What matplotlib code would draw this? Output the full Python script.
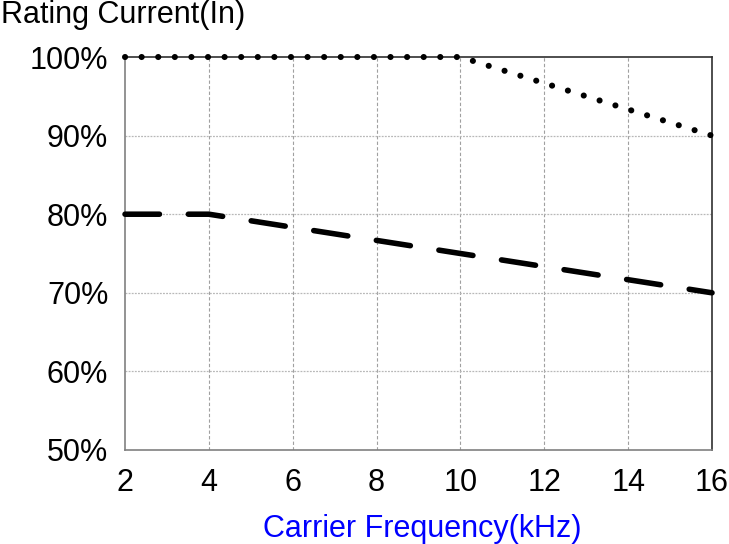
import matplotlib
matplotlib.use("Agg")
import matplotlib.pyplot as plt

plt.rcParams['font.family'] = ['Liberation Sans', 'DejaVu Sans']

# data
x_ticks = [2, 4, 6, 8, 10, 12, 14, 16]
y_ticks = [50, 60, 70, 80, 90, 100]
y_labels = ['50%', '60%', '70%', '80%', '90%', '100%']

upper_freq = [2, 10, 16]
upper_rate = [100, 100, 90]
lower_freq = [2, 4, 16]
lower_rate = [80, 80, 70]

fig = plt.figure(figsize=(7.29, 5.44), dpi=100)
ax = fig.add_axes([0.1715, 0.1728, 0.8052, 0.7224])

# grid
for xv in x_ticks[1:-1]:
    ax.axvline(xv, color='#a0a0a0', lw=0.8, ls=(0, (3, 2)), zorder=1)
for yv in y_ticks[1:-1]:
    ax.axhline(yv, color='#b8b8b8', lw=0.9, ls=(0, (1.5, 1)), zorder=1)

# curves
ax.plot(upper_freq, upper_rate, color='black', lw=4.4,
        ls=(0, (0.01, 2.705)), dash_capstyle='round', zorder=3, clip_on=False)
ax.plot(lower_freq, lower_rate, color='black', lw=4.0,
        ls=(0, (6.2, 5.2)), dash_capstyle='round', zorder=3, clip_on=False)

ax.set_xlim(2, 16)
ax.set_ylim(50, 100)
ax.set_xticks(x_ticks)
ax.set_yticks(y_ticks)
ax.set_yticklabels(y_labels)
ax.tick_params(length=0, labelsize=22, pad=13)
ax.tick_params(axis='y', pad=12)

for side in ['left', 'bottom']:
    ax.spines[side].set_color('#808080')
    ax.spines[side].set_linewidth(1.2)
ax.spines['top'].set_color('#303030')
ax.spines['right'].set_color('#303030')
ax.spines['top'].set_linewidth(1.2)
ax.spines['right'].set_linewidth(1.2)

fig.text(0.002, 0.972, 'Rating Current(In)', fontsize=22, ha='left', va='center')
fig.text(0.579, 0.028, 'Carrier Frequency(kHz)', fontsize=22, color='#0000ff',
         ha='center', va='center')

fig.savefig('out.png', dpi=100)
